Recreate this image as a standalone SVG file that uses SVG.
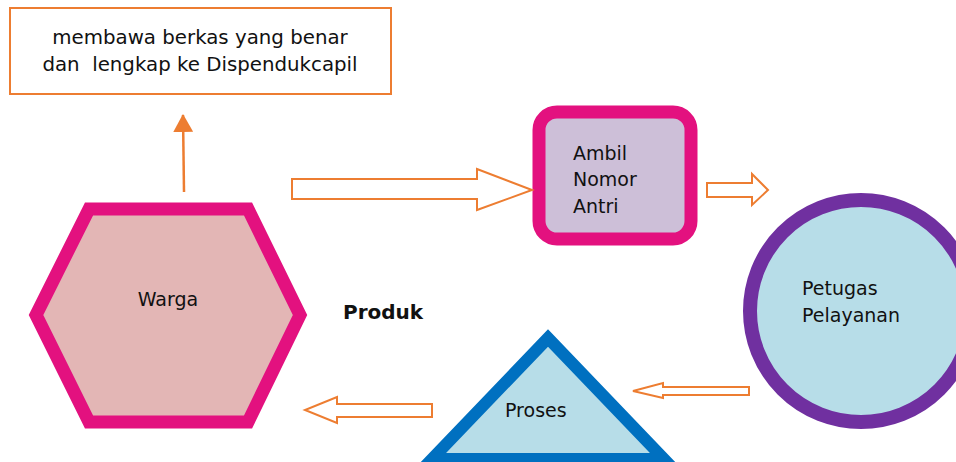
<svg xmlns="http://www.w3.org/2000/svg" width="956" height="462" viewBox="0 0 956 462">
<style>
text{font-family:"DejaVu Sans","Liberation Sans",sans-serif;font-size:19px;fill:#111}
.hollow{fill:#fff;stroke:#ED7D31;stroke-width:2;stroke-linejoin:miter}
</style>
<defs>
<marker id="ah" viewBox="0 0 18 20" refX="17" refY="10" markerWidth="18" markerHeight="20" markerUnits="userSpaceOnUse" orient="auto"><path d="M0,0 L18,10 L0,20 Z" fill="#ED7D31"/></marker>
</defs>
<rect width="956" height="462" fill="#fff"/>
<g id="note">
<rect x="10" y="8" width="381" height="86" fill="#fff" stroke="#ED7D31" stroke-width="2"/>
<text x="200" y="44" text-anchor="middle" font-size="19.8" style="font-size:19.8px" xml:space="preserve">membawa berkas yang benar</text>
<text x="200" y="71" text-anchor="middle" font-size="19.8" style="font-size:19.8px" xml:space="preserve">dan  lengkap ke Dispendukcapil</text>
</g>
<g id="warga">
<polygon points="89,209 248,209 300,315 248,422 89,422 36,315" fill="#E3B6B5" stroke="#E3117F" stroke-width="13"/>
<text x="168" y="306" text-anchor="middle">Warga</text>
</g>
<g id="ambil">
<rect x="539" y="112" width="152" height="127" rx="18" fill="#CDBFD8" stroke="#E3117F" stroke-width="13"/>
<text x="573" y="160">Ambil</text>
<text x="573" y="186">Nomor</text>
<text x="573" y="213">Antri</text>
</g>
<g id="petugas">
<circle cx="861" cy="311" r="111" fill="#B7DDE8" stroke="#7030A0" stroke-width="14"/>
<text x="802" y="295">Petugas</text>
<text x="802" y="322">Pelayanan</text>
</g>
<g id="proses">
<polygon points="548,338 664,459 432,459" fill="#B7DDE8" stroke="#0070C0" stroke-width="12"/>
<text x="505" y="417">Proses</text>
</g>
<g id="produk">
<text x="343" y="319" style="font-weight:bold;font-size:20px">Produk</text>
</g>
<g id="connectors">
<line x1="184" y1="192" x2="183" y2="115" stroke="#ED7D31" stroke-width="2.5" marker-end="url(#ah)"/>
<path class="hollow" d="M292,179 H477 V169 L532,190 L477,210 V199 H292 Z"/>
<path class="hollow" d="M707,183 H752 V174 L768,190 L752,205 V197 H707 Z"/>
<path class="hollow" d="M749,387 H663 V383 L633,391 L663,398 V395 H749 Z"/>
<path class="hollow" d="M432,404 H337 V397 L305,410 L337,423 V417 H432 Z"/>
</g>
</svg>
